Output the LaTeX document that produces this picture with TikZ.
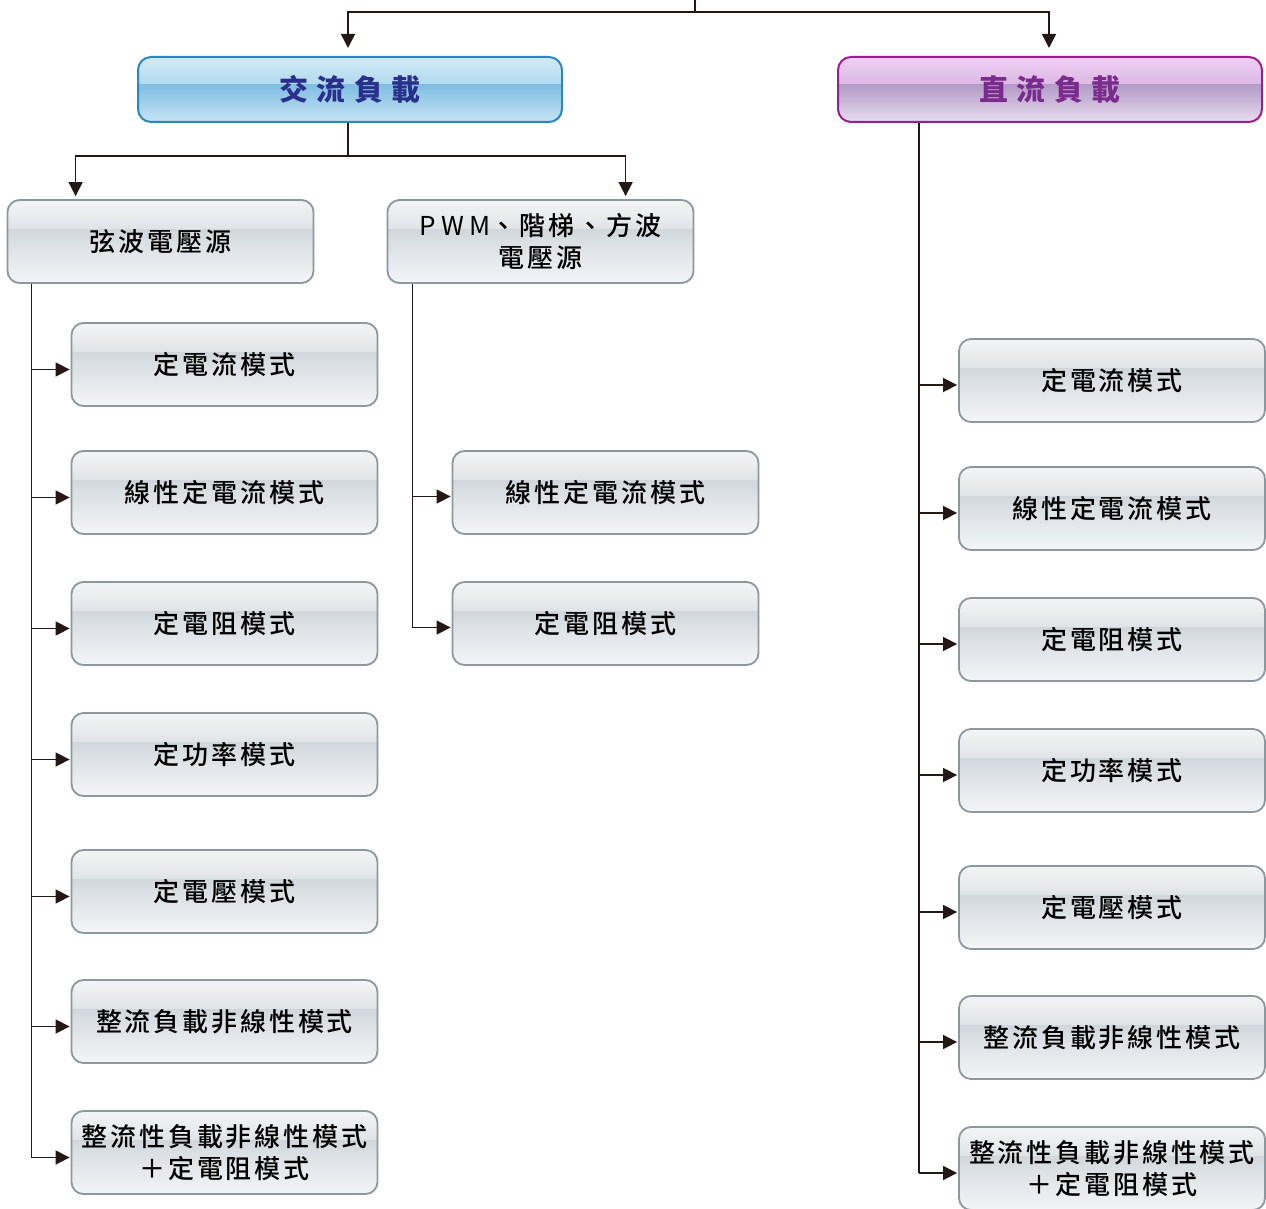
\documentclass[tikz,border=0pt]{standalone}
\usepackage{fontspec}
\usetikzlibrary{arrows.meta,calc}
\newfontfamily\boxfont[LetterSpace=11]{Noto Sans CJK TC Medium}
\newfontfamily\pwmfont[LetterSpace=20]{Noto Sans CJK TC}
\newfontfamily\hdfont[LetterSpace=28]{Noto Sans CJK TC}
\definecolor{lc}{HTML}{231815}
\definecolor{gT}{HTML}{F3F4F5}
\definecolor{gU}{HTML}{E1E4E7}
\definecolor{gD}{HTML}{D0D6DB}
\definecolor{gB}{HTML}{F3F5F7}
\definecolor{gborder}{HTML}{8C979E}
\definecolor{bT}{HTML}{D2EAF4}
\definecolor{bU}{HTML}{B2DAEE}
\definecolor{bD}{HTML}{7FBDE1}
\definecolor{bB}{HTML}{C7E4F4}
\definecolor{bborder}{HTML}{2B87BF}
\definecolor{pT}{HTML}{EDD0F1}
\definecolor{pU}{HTML}{DDB8E5}
\definecolor{pD}{HTML}{B29AC6}
\definecolor{pB}{HTML}{E8DDEF}
\definecolor{pborder}{HTML}{9C1F90}
\definecolor{acText}{HTML}{2B2F8C}
\definecolor{dcText}{HTML}{7B2B8D}
\pgfdeclareverticalshading{graygloss}{100bp}{color(0bp)=(gB); color(25bp)=(gB); color(50bp)=(gD!70!gB); color(57.9bp)=(gD); color(58bp)=(gU); color(75bp)=(gT); color(100bp)=(gT)}
\pgfdeclareverticalshading{bluegloss}{100bp}{color(0bp)=(bB); color(25bp)=(bB); color(48bp)=(bD!80!bB); color(54.4bp)=(bD); color(54.5bp)=(bU); color(75bp)=(bT); color(100bp)=(bT)}
\pgfdeclareverticalshading{purplegloss}{100bp}{color(0bp)=(pB); color(25bp)=(pB); color(48bp)=(pD!80!pB); color(54.4bp)=(pD); color(54.5bp)=(pU); color(75bp)=(pT); color(100bp)=(pT)}
\tikzset{
  line/.style={draw=lc, line width=1.5pt},
  arr/.style={line, -{Triangle[length=14pt,width=14pt]}},
  gbox/.style={rounded corners=12pt, draw=gborder, line width=1.8pt, shading=graygloss,
    minimum width=306pt, minimum height=83pt, inner sep=0pt, align=center,
    font=\boxfont\fontsize{26}{32}\selectfont, text=black},
  hbox/.style={rounded corners=13pt, line width=2pt,
    minimum width=424pt, minimum height=65pt, inner sep=0pt, align=center,
    font=\hdfont\bfseries\fontsize{29}{34}\selectfont},
  acbox/.style={hbox, draw=bborder, shading=bluegloss, text=acText},
  dcbox/.style={hbox, draw=pborder, shading=purplegloss, text=dcText},
}
\begin{document}
\begin{tikzpicture}[x=1pt,y=-1pt]
\useasboundingbox[fill=white] (0,0) rectangle (1266,1209);
% headers
\node[acbox] (AC) at (350,89.5) {交流負載};
\node[dcbox] (DC) at (1050,89.5) {直流負載};
% AC sources
\node[gbox] (sine) at (160.5,241.5) {弦波電壓源};
\node[gbox] (pwm) at (540.5,241.5) {{\pwmfont PWM}、階梯、方波\\電壓源};
% AC sine children
\node[gbox] (L1) at (224.5,364.5) {定電流模式};
\node[gbox] (L2) at (224.5,492.5) {線性定電流模式};
\node[gbox] (L3) at (224.5,623.5) {定電阻模式};
\node[gbox] (L4) at (224.5,754.5) {定功率模式};
\node[gbox] (L5) at (224.5,891.5) {定電壓模式};
\node[gbox] (L6) at (224.5,1021.5) {整流負載非線性模式};
\node[gbox] (L7) at (224.5,1152.5) {整流性負載非線性模式\\＋定電阻模式};
% PWM children
\node[gbox] (P1) at (605.5,492.5) {線性定電流模式};
\node[gbox] (P2) at (605.5,623.5) {定電阻模式};
% DC children
\node[gbox] (D1) at (1112,380.5) {定電流模式};
\node[gbox] (D2) at (1112,508.5) {線性定電流模式};
\node[gbox] (D3) at (1112,639.5) {定電阻模式};
\node[gbox] (D4) at (1112,770.5) {定功率模式};
\node[gbox] (D5) at (1112,907.5) {定電壓模式};
\node[gbox] (D6) at (1112,1037.5) {整流負載非線性模式};
\node[gbox] (D7) at (1112,1168.5) {整流性負載非線性模式\\＋定電阻模式};
% top connectors
\coordinate (top) at (695,0);
\draw[arr, shorten >=8pt] (top) -- ++(0,12) -| ([xshift=-2pt]AC.north);
\draw[arr, shorten >=8pt] (top) -- ++(0,12) -| ([xshift=-1pt]DC.north);
% AC to sources
\coordinate (s1) at ([xshift=69pt]sine.north west);
\coordinate (s2) at ([xshift=239pt]pwm.north west);
\draw[arr, shorten >=3pt] ([xshift=-2pt]AC.south) -- ++(0,33) -| (s1);
\draw[arr, shorten >=3pt] ([xshift=-2pt]AC.south) -- ++(0,33) -| (s2);
% left trunk
\coordinate (lt) at ([xshift=25pt]sine.south west);
\foreach \n in {L1,L2,L3,L4,L5,L6,L7} {
  \coordinate (\n a) at ([yshift=-5pt]\n.west);
}
\draw[line] (lt) -- (lt |- L7a);
\foreach \n in {L1,L2,L3,L4,L5,L6,L7} {
  \draw[arr, shorten >=1pt] (lt |- \n a) -- (\n a);
}
% pwm trunk
\coordinate (pt) at ([xshift=26pt]pwm.south west);
\foreach \n in {P1,P2} {
  \coordinate (\n a) at ([yshift=-4pt]\n.west);
}
\draw[line] (pt) -- (pt |- P2a);
\foreach \n in {P1,P2} {
  \draw[arr, shorten >=1pt] (pt |- \n a) -- (\n a);
}
% dc trunk
\coordinate (dt) at ([xshift=82pt]DC.south west);
\foreach \n in {D1,D2,D3,D4,D5,D6,D7} {
  \coordinate (\n a) at ([yshift=-4.5pt]\n.west);
}
\draw[line] (dt) -- (dt |- D7a);
\foreach \n in {D1,D2,D3,D4,D5,D6,D7} {
  \draw[arr, shorten >=1pt] (dt |- \n a) -- (\n a);
}
\end{tikzpicture}
\end{document}
